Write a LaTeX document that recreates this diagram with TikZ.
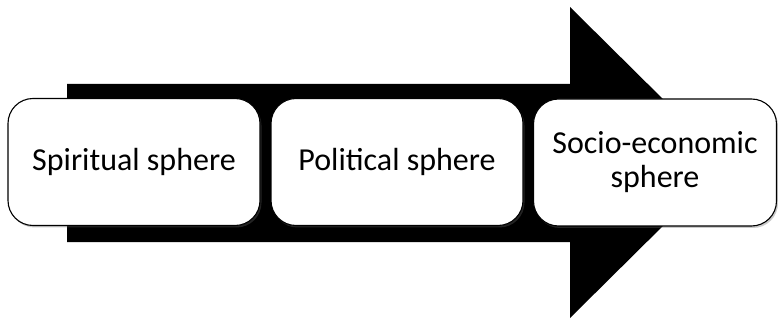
\documentclass[tikz,border=0pt]{standalone}
\usepackage{fontspec}
\setmainfont{Carlito}
\usetikzlibrary{shadows}
\begin{document}
\begin{tikzpicture}[x=1pt,y=-1pt,
  sphere/.style={draw=black, line width=1.1pt, fill=white, rounded corners=25pt,
    minimum height=127pt, inner sep=0pt, align=center,
    font=\fontsize{32}{34}\selectfont,
    drop shadow={shadow xshift=1.5pt, shadow yshift=-2pt, opacity=0.35, fill=black!60}},
  bigarrow/.style={fill=black}]
\useasboundingbox (0,0) rectangle (778,320);
\fill[bigarrow] (67,84) -- (570,84) -- (570,7) -- (727,162.5) -- (570,318) -- (570,242) -- (67,242) -- cycle;
\node[sphere, minimum width=252pt] (b1) at (134,162) {Spiritual sphere};
\node[sphere, minimum width=252pt] (b2) at (397,162) {Political sphere};
\node[sphere, minimum width=243pt] (b3) at (655,162.5) {Socio-economic\\sphere};
\end{tikzpicture}
\end{document}
